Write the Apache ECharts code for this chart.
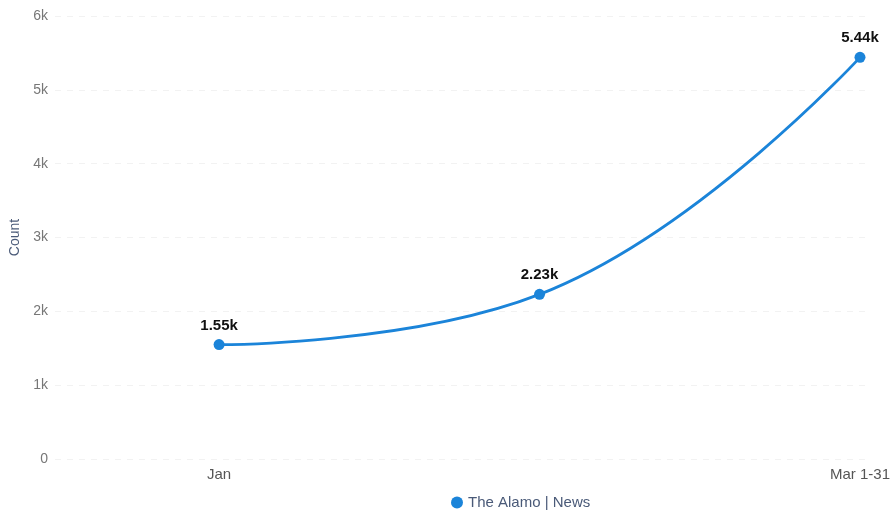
<!DOCTYPE html>
<html><head><meta charset="utf-8">
<script src="https://cdn.jsdelivr.net/npm/echarts@6/dist/echarts.min.js"></script>
<style>html,body{margin:0;padding:0;background:#fff}#c{width:890px;height:516px}</style>
</head><body><div id="c"></div>
<script>
const categories = ["Jan", "Feb", "Mar 1-31"];
const tickLabels = ["Jan", "Mar 1-31"];
const values = [1550, 2230, 5440];
const seriesName = "The Alamo | News";
const yTicks = [0, 1000, 2000, 3000, 4000, 5000, 6000];

const chart = echarts.init(document.getElementById('c'));
const data = values.map((v, i) => [i, v]);
const labelIdx = tickLabels.map(t => categories.indexOf(t));
chart.setOption({
  animation: false,
  grid: {left: 55, right: 22, top: 16, bottom: 57, outerBoundsMode: 'none', containLabel: false},
  legend: {
    left: 446, bottom: 1, icon: 'circle', itemWidth: 12, itemHeight: 12, itemGap: 5,
    textStyle: {color: '#4a5a78', fontSize: 15, fontFamily: 'Liberation Sans, Arial'},
    data: [seriesName]
  },
  xAxis: {
    type: 'value', min: -0.512, max: 2.025,
    axisLine: {show: false}, axisTick: {show: false}, splitLine: {show: false},
    axisLabel: {
      customValues: labelIdx, color: '#555', fontSize: 15, margin: 8,
      fontFamily: 'Liberation Sans, Arial', hideOverlap: false,
      formatter: v => categories[Math.round(v)]
    }
  },
  yAxis: {
    type: 'value', min: yTicks[0], max: yTicks[yTicks.length-1], interval: 1000,
    name: 'Count', nameLocation: 'middle', nameGap: 31, nameRotate: 90,
    nameTextStyle: {color: '#4a5a78', fontSize: 14, fontFamily: 'Liberation Sans, Arial'},
    axisLine: {show: false}, axisTick: {show: false},
    axisLabel: {color: '#777', fontSize: 14, margin: 7, fontFamily: 'Liberation Sans, Arial',
      formatter: v => v === 0 ? '0' : (v/1000) + 'k'},
    splitLine: {lineStyle: {color: '#f2f2f2', type: [6, 6]}}
  },
  series: [{
    name: seriesName, type: 'line', data: data, smooth: 0.45,
    symbol: 'circle', symbolSize: 11,
    lineStyle: {color: '#1b84d9', width: 2.8},
    itemStyle: {color: '#1b84d9'},
    label: {show: true, position: 'top', distance: 6, color: '#111', fontWeight: 'bold', fontSize: 15,
      fontFamily: 'Liberation Sans, Arial',
      formatter: p => (p.value[1]/1000).toFixed(2) + 'k'}
  }]
});
</script></body></html>
